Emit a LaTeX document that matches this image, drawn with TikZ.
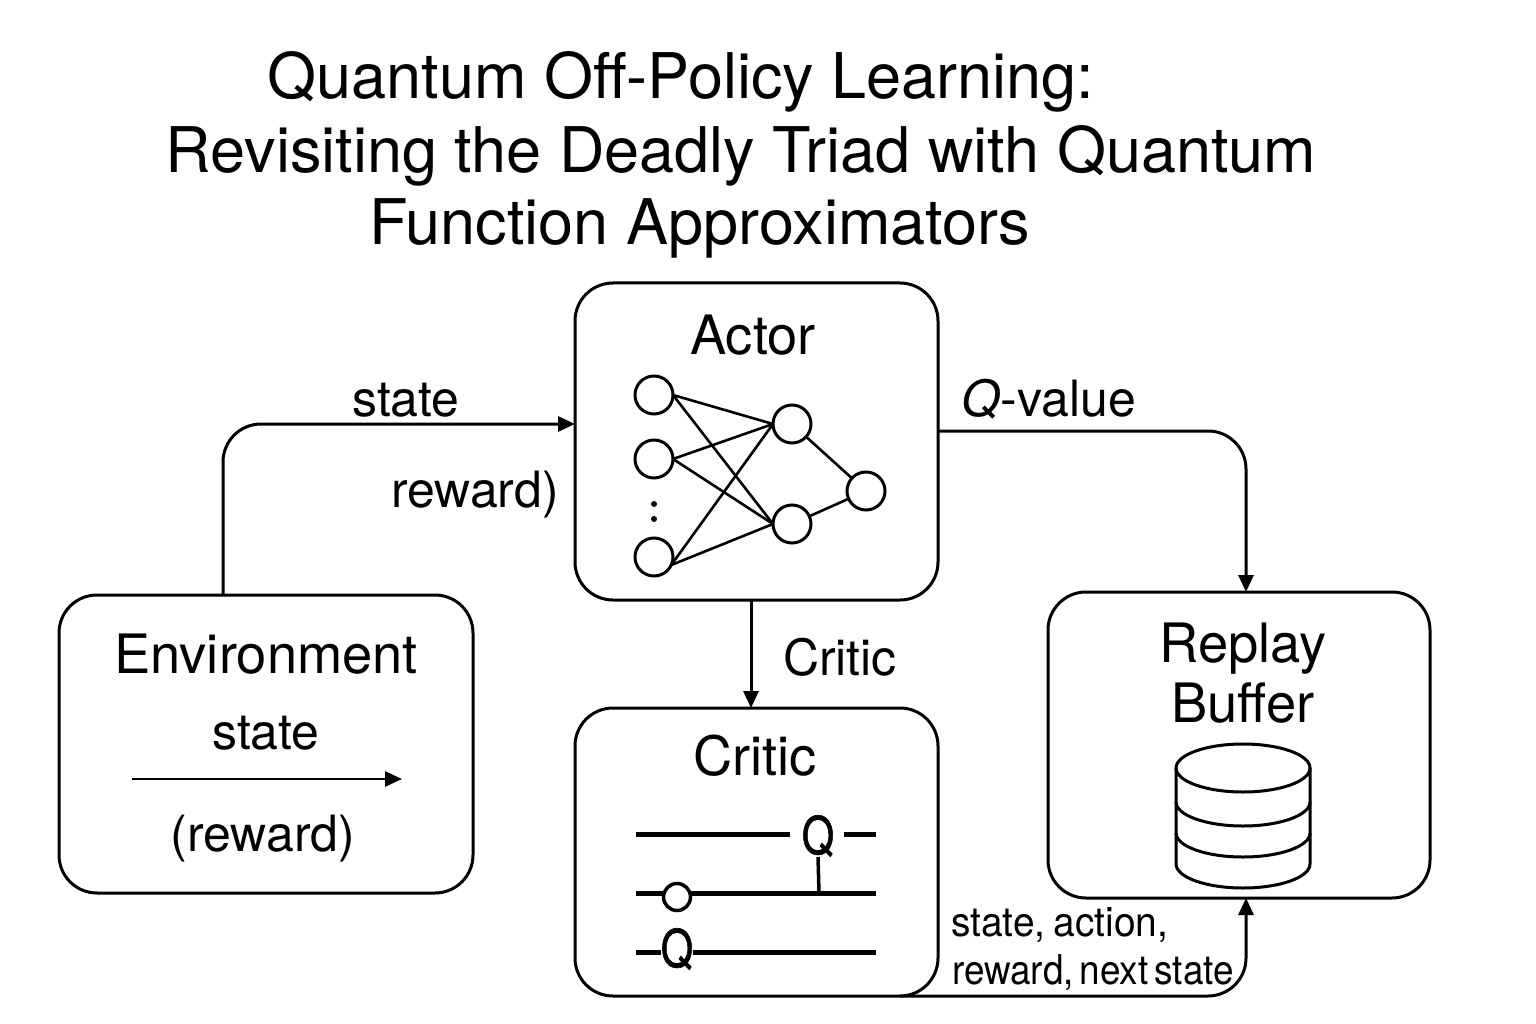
\documentclass[tikz,border=0pt]{standalone}
\usepackage{fontspec}
\setmainfont{TeX Gyre Heros}
\newfontfamily\gatefont[FakeBold=1.2]{TeX Gyre Heros}
\usetikzlibrary{arrows.meta}
\newcommand{\fs}[1]{\fontsize{#1}{#1}\selectfont}
\tikzset{
  x=1pt,y=-1pt,
  box/.style={draw,line width=3pt,rounded corners=38pt,anchor=north west,inner sep=0pt,outer sep=0pt},
  conn/.style={draw,line width=3pt,rounded corners=38pt,-{Triangle[length=17pt,width=15pt]}},
  plain/.style={draw,line width=3pt},
  title/.style={anchor=base,font=\fs{63},inner sep=0pt},
  head/.style={anchor=base,font=\fs{54.3},inner sep=0pt},
  lab/.style={anchor=base,font=\fs{50},inner sep=0pt},
  small/.style={anchor=base west,font=\fs{41},inner sep=0pt},
  neuron/.style={circle,draw,line width=3pt,minimum size=38pt,inner sep=0pt,outer sep=0pt},
  wire/.style={line width=5pt},
  gate/.style={anchor=center,fill=white,inner sep=0pt,font=\fs{52}\gatefont},
  edge/.style={line width=2.6pt},
  dot/.style={circle,fill=black,minimum size=6pt,inner sep=0pt},
}
\begin{document}
\begin{tikzpicture}
\useasboundingbox (0,0) rectangle (1536,1024);
\fill[white] (0,0) rectangle (1536,1024);
% title
\node[title] (t1) at (681,99) {Quantum Off-Policy Learning:};
\node[title] (t2) at (741,173) {Revisiting the Deadly Triad with Quantum};
\node[title] (t3) at (700,245) {Function Approximators};
% boxes
\node[box,minimum width=363pt,minimum height=317pt] (actor) at (575,283) {};
\node[box,minimum width=414pt,minimum height=298pt] (env) at (59,595) {};
\node[box,minimum width=363pt,minimum height=288pt] (critic) at (575,708) {};
\node[box,minimum width=382pt,minimum height=306pt] (replay) at (1048,592) {};
% box texts
\node[head] (actortxt) at (753,354) {Actor};
\node[head] (envtxt) at (266,673) {Environment};
\node[lab] (envstate) at (266,749) {state};
\node[lab] (envreward) at (263,851) {(reward)};
\node[head] (crittxt) at (755,775) {Critic};
\node[head] (rep1) at (1243,662) {Replay};
\node[head] (rep2) at (1243,722) {Buffer};
% connector labels
\node[lab] (lstate) at (406,416) {state};
\node[lab] (lreward) at (475,507) {reward)};
\node[lab] (lq) at (1049,416) {\textit{Q}-value};
\node[lab] (lcrit) at (840,675) {Critic};
\node[small] (l1) at (951,936) {\scalebox{0.95}[1]{\spaceskip=0.2em state, action,}};
\node[small] (l2) at (952,984) {\scalebox{0.9}[1]{\spaceskip=0.16em reward, next state}};
% connectors
\coordinate (eo) at (223,595);
\coordinate (ai) at (575,424);
\coordinate (ao) at (938,431);
\coordinate (ri) at (1246,592);
\coordinate (ab) at (751,600);
\coordinate (ct) at (751,708);
\coordinate (co) at (900,996);
\coordinate (rb) at (1246,898);
\coordinate (ea) at (132,779);
\coordinate (eb) at (402,779);
\draw[conn] (eo) |- (ai);
\draw[conn] (ao) -| (ri);
\draw[conn] (ab) -- (ct);
\draw[conn] (co) -| (rb);
\draw[conn,rounded corners=0pt,line width=2.6pt] (ea) -- (eb);
% network
\node[neuron] (i1) at (654,395) {};
\node[neuron] (i2) at (654,459) {};
\node[neuron] (i3) at (654,557) {};
\node[neuron] (h1) at (792,424) {};
\node[neuron] (h2) at (792,524) {};
\node[neuron] (o1) at (866,491) {};
\node[dot] (d1) at (654,504) {};
\node[dot] (d2) at (654,519) {};
\foreach \a/\ang in {i1/0,i2/0,i3/-25}\foreach \b in {h1,h2}{\draw[edge] (\a.\ang) -- (\b.west);}
\draw[edge] (h1) -- (o1);
\draw[edge] (h2) -- (o1);
% circuit
\coordinate (w1a) at (636,834); \coordinate (w1b) at (790,834);
\coordinate (w1c) at (844,834); \coordinate (w1d) at (876,834);
\coordinate (w2a) at (636,893); \coordinate (w2b) at (876,893);
\coordinate (w3a) at (636,952); \coordinate (w3b) at (876,952);
\coordinate (stem) at (819,893);
\draw[wire] (w1a) -- (w1b);
\draw[wire] (w1c) -- (w1d);
\draw[wire] (w2a) -- (w2b);
\draw[wire] (w3a) -- (w3b);
\node[gate] (q1) at (818,836) {\scalebox{0.8}[1]{Q}};
\node[gate] (q3) at (677,949) {\scalebox{0.8}[1]{Q}};
\draw[line width=3.5pt] (q1.south) -- (stem);
\node[circle,draw,fill=white,line width=3.5pt,minimum width=27pt,inner sep=0pt] (c2) at (677,897) {};
% database
\draw[plain,fill=white] (1176,768) arc[start angle=180,end angle=0,x radius=67,y radius=24] arc[start angle=0,end angle=-180,x radius=67,y radius=24] -- cycle;
\draw[plain] (1176,768) -- (1176,864) arc[start angle=180,end angle=0,x radius=67,y radius=24] -- (1310,768);
\draw[plain] (1176,802) arc[start angle=180,end angle=0,x radius=67,y radius=24];
\draw[plain] (1176,833) arc[start angle=180,end angle=0,x radius=67,y radius=24];
\end{tikzpicture}
\end{document}
